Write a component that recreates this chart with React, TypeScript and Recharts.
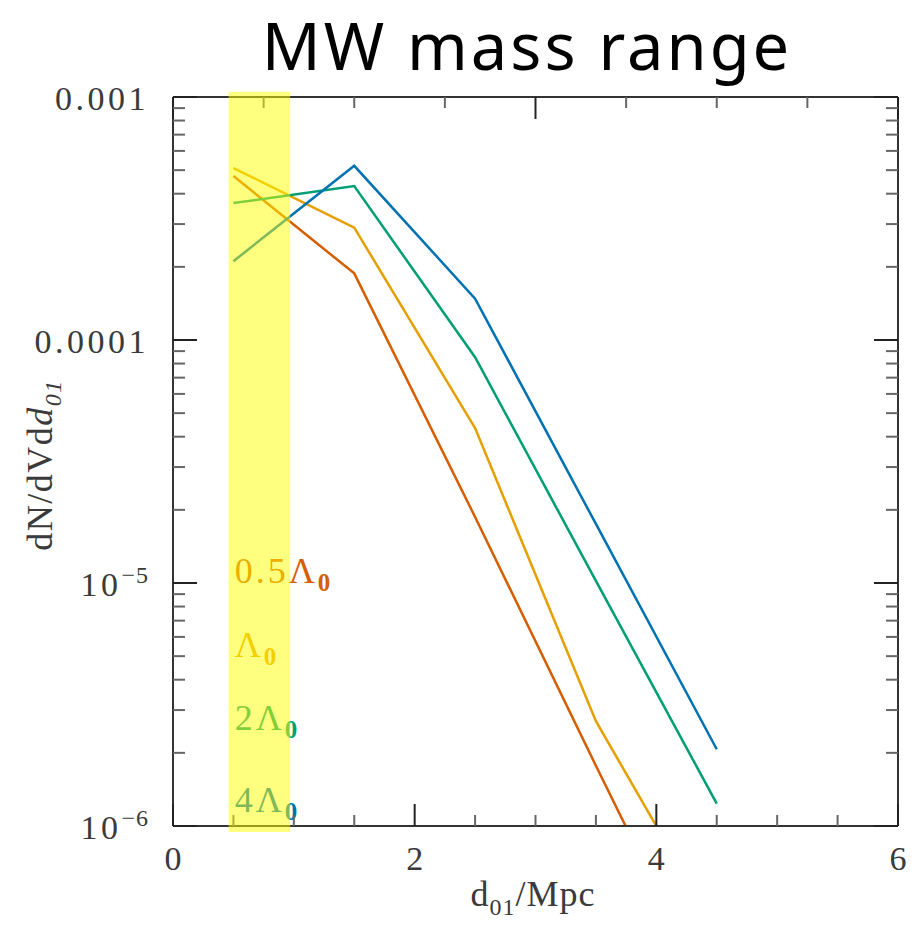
import React from 'react';
import { LineChart, Line, XAxis, YAxis, ReferenceArea, ReferenceDot } from 'recharts';

// ---- data ----
const distances = [0.5, 1.5, 2.5, 3.5, 4.5];
const halfLambda = [4.73e-4, 1.88e-4, 1.87e-5, 1.77e-6, 1.73e-7];
const oneLambda = [5.1e-4, 2.9e-4, 4.34e-5, 2.7e-6, 3.7e-7];
const twoLambda = [3.66e-4, 4.3e-4, 8.49e-5, 1.02e-5, 1.236e-6];
const fourLambda = [2.11e-4, 5.21e-4, 1.48e-4, 1.75e-5, 2.07e-6];

const seriesKeys = ['half', 'one', 'two', 'four'];
const seriesColors = ['#D55E00', '#E69F00', '#009E73', '#0072B2'];
const legendPrefixes = ['0.5', '', '2', '4'];
const legendY = [1e-5, 4.95e-6, 2.48e-6, 1.14e-6];
const legendX = 0.51;

const xTicks = [0, 0.5, 1, 1.5, 2, 2.5, 3, 3.5, 4, 4.5, 5, 5.5, 6];
const xMajor = [0, 2, 4, 6];
const xLabels = ['0', '2', '4', '6'];

const yDecades = [1e-6, 1e-5, 1e-4, 1e-3];
const yMultipliers = [1, 2, 3, 4, 5, 6, 7, 8, 9];
const yMajorLabels = [
  { base: '10', exp: '\u22126' },
  { base: '10', exp: '\u22125' },
  { base: '0.0001', exp: '' },
  { base: '0.001', exp: '' },
];
const yTicks: number[] = [];
yDecades.forEach((d, i) => {
  yMultipliers.forEach((m) => {
    if (i === yDecades.length - 1 && m > 1) return;
    yTicks.push(m * d);
  });
});

const bandX = [0.46, 0.97];
const bandY = [9.45e-7, 1.05e-3];

const data = distances.map((d, i) => ({
  d,
  half: halfLambda[i],
  one: oneLambda[i],
  two: twoLambda[i],
  four: fourLambda[i],
}));

const W = 912;
const H = 940;
const SERIF = '"Liberation Serif", "DejaVu Serif", serif';
const AXIS = '#333';
const TEXT = '#3a3a3a';

const majorIndex = (arr: number[], v: number) =>
  arr.findIndex((a) => Math.abs(a - v) <= Math.abs(a) * 1e-6 + 1e-12);

const BottomTick = (props: any) => {
  const { x, y, payload } = props;
  const idx = majorIndex(xMajor, payload.value);
  const major = idx >= 0;
  return (
    <g>
      <line x1={x} x2={x} y1={y} y2={y - (major ? 22 : 11)} stroke={major ? '#222' : '#666'} strokeWidth={2} />
      {major && (
        <text x={x} y={y + 44} textAnchor="middle" fontFamily={SERIF} fontSize={34} fill={TEXT}>
          {xLabels[idx]}
        </text>
      )}
    </g>
  );
};

const TopTick = (props: any) => {
  const { x, y, payload } = props;
  const major = majorIndex(xMajor, payload.value) >= 0;
  return <line x1={x} x2={x} y1={y} y2={y + (major ? 22 : 11)} stroke={major ? '#222' : '#666'} strokeWidth={2} />;
};

const LeftTick = (props: any) => {
  const { x, y, payload } = props;
  const idx = majorIndex(yDecades, payload.value);
  const major = idx >= 0;
  const lab = major ? yMajorLabels[idx] : null;
  return (
    <g>
      <line x1={x} x2={x + (major ? 24 : 12)} y1={y} y2={y} stroke={major ? '#222' : '#666'} strokeWidth={2} />
      {lab && (
        <text x={x - 24} y={y + 13} textAnchor="end" fontFamily={SERIF} fontSize={34} fill={TEXT} letterSpacing={3.5}>
          {lab.base}
          {lab.exp && (
            <tspan dy={-13} fontSize={24} letterSpacing={1}>
              {lab.exp}
            </tspan>
          )}
        </text>
      )}
    </g>
  );
};

const RightTick = (props: any) => {
  const { x, y, payload } = props;
  const major = majorIndex(yDecades, payload.value) >= 0;
  return <line x1={x} x2={x - (major ? 24 : 12)} y1={y} y2={y} stroke={major ? '#222' : '#666'} strokeWidth={2} />;
};

const makeLegendShape = (i: number) => (p: any) => (
  <text x={p.cx} y={p.cy} fontFamily={SERIF} fontSize={36} fill={seriesColors[i]} letterSpacing={3}>
    {legendPrefixes[i]}
    {'\u039B'}
    <tspan dy={8} fontSize={25} fontWeight="bold">
      0
    </tspan>
  </text>
);

export default function App() {
  return (
    <div style={{ position: 'absolute', left: 0, top: 0, width: W, height: H, background: '#fff' }}>
      <LineChart width={W} height={H} data={data} margin={{ top: 96, right: 13, bottom: 113, left: 172 }}>
        <XAxis
          xAxisId="bottom"
          dataKey="d"
          type="number"
          domain={[0, 6]}
          ticks={xTicks}
          interval={0}
          allowDataOverflow
          height={1}
          tickSize={0}
          tickMargin={0}
          tickLine={false}
          axisLine={{ stroke: AXIS, strokeWidth: 2 }}
          tick={(p: any) => <BottomTick {...p} />}
        />
        <XAxis
          xAxisId="top"
          orientation="top"
          type="number"
          domain={[0, 6]}
          ticks={xTicks}
          interval={0}
          allowDataOverflow
          height={1}
          tickSize={0}
          tickMargin={0}
          tickLine={false}
          axisLine={{ stroke: AXIS, strokeWidth: 2 }}
          tick={(p: any) => <TopTick {...p} />}
        />
        <YAxis
          yAxisId="left"
          type="number"
          scale="log"
          domain={[1e-6, 1e-3]}
          allowDataOverflow
          ticks={yTicks}
          interval={0}
          width={1}
          tickSize={0}
          tickMargin={0}
          tickLine={false}
          axisLine={{ stroke: AXIS, strokeWidth: 2 }}
          tick={(p: any) => <LeftTick {...p} />}
        />
        <YAxis
          yAxisId="right"
          orientation="right"
          type="number"
          scale="log"
          domain={[1e-6, 1e-3]}
          allowDataOverflow
          ticks={yTicks}
          interval={0}
          width={1}
          tickSize={0}
          tickMargin={0}
          tickLine={false}
          axisLine={{ stroke: AXIS, strokeWidth: 2 }}
          tick={(p: any) => <RightTick {...p} />}
        />
        {seriesKeys.map((k, i) => (
          <Line
            key={k}
            xAxisId="bottom"
            yAxisId="left"
            type="linear"
            dataKey={k}
            stroke={seriesColors[i]}
            strokeWidth={2.5}
            dot={false}
            activeDot={false}
            isAnimationActive={false}
          />
        ))}
        {legendY.map((yv, i) => (
          <ReferenceDot
            key={'lg' + i}
            xAxisId="bottom"
            yAxisId="left"
            x={legendX}
            y={yv}
            r={0}
            shape={makeLegendShape(i)}
          />
        ))}
        <ReferenceArea
          xAxisId="bottom"
          yAxisId="left"
          x1={bandX[0]}
          x2={bandX[1]}
          y1={bandY[0]}
          y2={bandY[1]}
          ifOverflow="visible"
          fill="#ffff00"
          fillOpacity={0.5}
          stroke="none"
          zIndex={2000}
        />
      </LineChart>
      <svg width={W} height={H} style={{ position: 'absolute', left: 0, top: 0, pointerEvents: 'none' }}>
        <text x={527} y={70} textAnchor="middle" fontFamily='"Noto Sans", "Open Sans", sans-serif' fontSize={65} fill="#000" letterSpacing={3}>
          MW mass range
        </text>
        <text x={533} y={906} textAnchor="middle" fontFamily={SERIF} fontSize={36} fill={TEXT} letterSpacing={1}>
          d
          <tspan dy={9} fontSize={24}>01</tspan>
          <tspan dy={-9}>/Mpc</tspan>
        </text>
        <text
          transform="translate(52,465) rotate(-90)"
          textAnchor="middle"
          fontFamily={SERIF}
          fontSize={36}
          fill={TEXT}
          letterSpacing={1.5}
        >
          dN/dVd
          <tspan fontStyle="italic">d</tspan>
          <tspan dy={9} fontSize={24} fontStyle="italic">01</tspan>
        </text>
      </svg>
    </div>
  );
}
